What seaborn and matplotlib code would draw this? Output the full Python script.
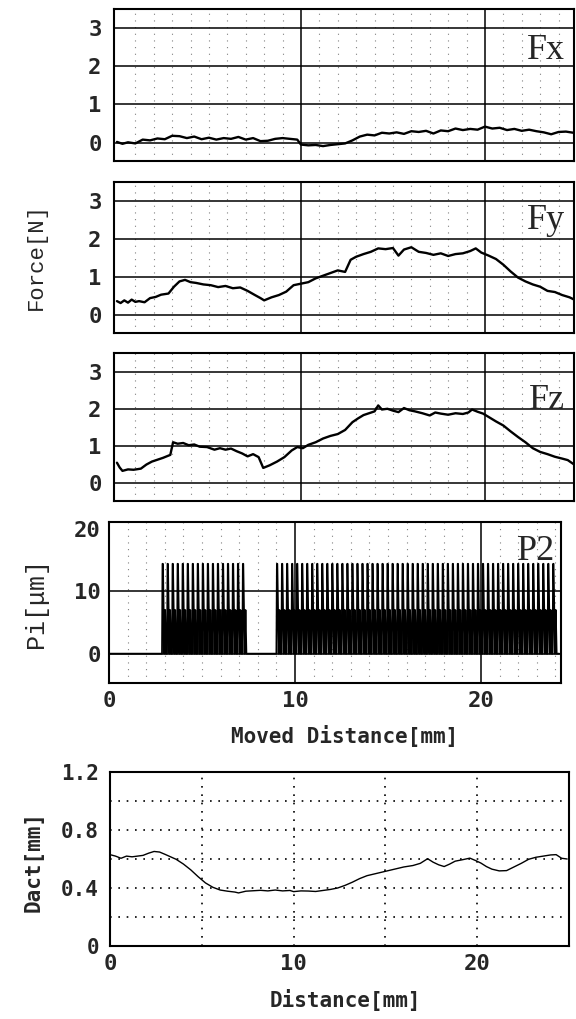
import numpy as np
import matplotlib
matplotlib.use("Agg")
import matplotlib.pyplot as plt
import seaborn as sns

# ---- data ----
# force curves vs moved distance [mm]
fx_dist = [0.0, 0.3, 0.6, 1.0, 1.4, 1.8, 2.2, 2.6, 3.0, 3.4, 3.8, 4.2, 4.6, 5.0, 5.4, 5.8,
           6.2, 6.6, 7.0, 7.4, 7.8, 8.2, 8.6, 9.0, 9.4, 9.8, 10.0, 10.4, 10.8, 11.2, 11.6,
           12.0, 12.4, 12.8, 13.2, 13.6, 14.0, 14.4, 14.8, 15.2, 15.6, 16.0, 16.4, 16.8,
           17.2, 17.6, 18.0, 18.4, 18.8, 19.2, 19.6, 20.0, 20.4, 20.8, 21.2, 21.6, 22.0,
           22.4, 22.8, 23.2, 23.6, 24.0, 24.4, 24.8]
fx_force = [0.02, -0.03, 0.01, -0.02, 0.08, 0.06, 0.11, 0.09, 0.18, 0.17, 0.12, 0.16, 0.09,
            0.13, 0.08, 0.12, 0.10, 0.15, 0.08, 0.12, 0.04, 0.05, 0.10, 0.12, 0.10, 0.08,
            -0.05, -0.07, -0.06, -0.09, -0.06, -0.04, -0.02, 0.06, 0.16, 0.21, 0.19, 0.26,
            0.24, 0.27, 0.23, 0.30, 0.28, 0.31, 0.24, 0.32, 0.30, 0.37, 0.33, 0.36, 0.34,
            0.42, 0.37, 0.39, 0.33, 0.36, 0.31, 0.34, 0.30, 0.27, 0.22, 0.28, 0.29, 0.26]

fy_dist = [0.0, 0.2, 0.4, 0.6, 0.8, 1.0, 1.2, 1.5, 1.8, 2.1, 2.4, 2.8, 3.1, 3.4, 3.7, 4.0,
           4.3, 4.7, 5.1, 5.5, 5.9, 6.3, 6.7, 7.1, 7.5, 7.8, 8.0, 8.4, 8.8, 9.2, 9.6, 10.0,
           10.4, 10.8, 11.2, 11.6, 12.0, 12.4, 12.7, 13.0, 13.4, 13.8, 14.2, 14.6, 15.0,
           15.3, 15.6, 16.0, 16.4, 16.8, 17.2, 17.6, 18.0, 18.4, 18.8, 19.2, 19.5, 19.8,
           20.2, 20.6, 21.0, 21.4, 21.8, 22.2, 22.6, 23.0, 23.4, 23.8, 24.2, 24.6, 24.85]
fy_force = [0.36, 0.31, 0.38, 0.32, 0.40, 0.34, 0.36, 0.33, 0.44, 0.47, 0.53, 0.56, 0.74,
            0.88, 0.92, 0.86, 0.84, 0.80, 0.78, 0.73, 0.76, 0.70, 0.72, 0.63, 0.52, 0.44,
            0.38, 0.46, 0.52, 0.61, 0.78, 0.82, 0.86, 0.96, 1.03, 1.10, 1.17, 1.13, 1.45,
            1.53, 1.60, 1.66, 1.75, 1.73, 1.76, 1.56, 1.72, 1.78, 1.66, 1.63, 1.58, 1.62,
            1.55, 1.60, 1.62, 1.68, 1.75, 1.64, 1.56, 1.47, 1.32, 1.14, 0.98, 0.88, 0.80,
            0.74, 0.63, 0.60, 0.52, 0.46, 0.40]

fz_dist = [0.0, 0.15, 0.3, 0.6, 0.9, 1.3, 1.6, 1.9, 2.2, 2.5, 2.9, 3.05, 3.3, 3.6, 3.9, 4.2,
           4.5, 4.9, 5.3, 5.6, 5.9, 6.2, 6.5, 6.8, 7.1, 7.4, 7.7, 7.95, 8.3, 8.7, 9.1, 9.5,
           9.8, 10.1, 10.4, 10.8, 11.2, 11.6, 12.0, 12.4, 12.8, 13.1, 13.4, 13.7, 14.0,
           14.2, 14.4, 14.7, 15.0, 15.3, 15.6, 15.9, 16.2, 16.6, 17.0, 17.3, 17.6, 18.0,
           18.4, 18.8, 19.1, 19.3, 19.6, 19.9, 20.2, 20.6, 21.0, 21.4, 21.8, 22.2, 22.6,
           23.0, 23.4, 23.8, 24.2, 24.5, 24.85]
fz_force = [0.55, 0.42, 0.33, 0.37, 0.36, 0.39, 0.50, 0.58, 0.63, 0.68, 0.76, 1.10, 1.06,
            1.08, 1.02, 1.04, 0.98, 0.97, 0.90, 0.94, 0.90, 0.93, 0.86, 0.80, 0.72, 0.78,
            0.70, 0.41, 0.48, 0.58, 0.70, 0.88, 0.97, 0.94, 1.03, 1.10, 1.20, 1.27, 1.32,
            1.43, 1.64, 1.74, 1.83, 1.88, 1.93, 2.09, 1.98, 2.00, 1.95, 1.91, 2.02, 1.96,
            1.93, 1.88, 1.82, 1.90, 1.87, 1.84, 1.88, 1.86, 1.90, 1.98, 1.92, 1.87, 1.78,
            1.66, 1.55, 1.39, 1.24, 1.10, 0.94, 0.84, 0.78, 0.71, 0.66, 0.62, 0.50]

# P2 piezo signal: pulse bursts (start, end) [mm], pulse pitch [mm], levels [um]
p2_bursts = [(2.85, 7.5), (9.0, 24.1)]
p2_pitch = 0.27
p2_peak = 14.4
p2_mid = 7.0
p2_end = 24.2

# actual depth vs distance
dact_dist = [0.0, 0.3, 0.6, 0.9, 1.2, 1.5, 1.8, 2.1, 2.4, 2.7, 3.0, 3.3, 3.6, 4.0, 4.4, 4.8,
             5.2, 5.6, 6.0, 6.4, 6.8, 7.0, 7.4, 7.8, 8.2, 8.6, 9.0, 9.4, 9.8, 10.0, 10.4,
             10.8, 11.2, 11.6, 12.0, 12.4, 12.8, 13.2, 13.6, 14.0, 14.5, 15.0, 15.5, 16.0,
             16.5, 16.9, 17.3, 17.6, 17.9, 18.2, 18.5, 18.8, 19.2, 19.6, 19.9, 20.2, 20.5,
             20.8, 21.2, 21.6, 22.0, 22.4, 22.8, 23.2, 23.6, 24.0, 24.3, 24.6, 24.9]
dact_val = [0.630, 0.620, 0.605, 0.620, 0.615, 0.620, 0.625, 0.640, 0.652, 0.648, 0.632,
            0.615, 0.598, 0.565, 0.525, 0.478, 0.435, 0.405, 0.386, 0.378, 0.372, 0.366,
            0.378, 0.381, 0.384, 0.380, 0.386, 0.380, 0.383, 0.375, 0.380, 0.379, 0.376,
            0.383, 0.390, 0.400, 0.418, 0.440, 0.465, 0.485, 0.500, 0.515, 0.530, 0.545,
            0.555, 0.570, 0.602, 0.578, 0.560, 0.548, 0.565, 0.585, 0.595, 0.606, 0.590,
            0.572, 0.548, 0.530, 0.518, 0.520, 0.545, 0.570, 0.598, 0.612, 0.620, 0.628,
            0.630, 0.605, 0.600]

force_names = ["Fx", "Fy", "Fz"]
force_label_y = [2.2, 2.25, 2.0]
force_ticks = [0, 1, 2, 3]
p2_ticks = [0, 10, 20]
dact_ticks = [0, 0.4, 0.8, 1.2]
dist_ticks = [0, 10, 20]

# ---- figure ----
sns.set_theme(style="white")
plt.rcParams["font.family"] = ["DejaVu Sans"]

W, H = 576, 1019
fig = plt.figure(figsize=(W / 100, H / 100), dpi=100)


def box(left, top, right, bottom):
    return [left / W, 1 - bottom / H, (right - left) / W, (bottom - top) / H]


tick_font = dict(family="DejaVu Sans Mono", weight="bold", size=16)
dec_font = dict(family="DejaVu Sans Mono", weight="bold", size=15)
mono_thin = ["Liberation Mono", "DejaVu Sans Mono"]
serif = ["Liberation Serif", "DejaVu Serif"]


def frame(ax):
    for sp in ax.spines.values():
        sp.set_color("black")
        sp.set_linewidth(1.5)
    ax.tick_params(length=0)
    ax.set_xlabel("")
    ax.set_ylabel("")


def mm_grid(ax):
    # faint dotted 1 mm grid plus solid lines every 10 mm
    for d in range(1, 25):
        if d % 10:
            ax.axvline(d, color="0.5", lw=0.8, ls=(0, (1, 5)), zorder=1)
    for d in (10, 20):
        ax.axvline(d, color="black", lw=1.1, zorder=1)


force_boxes = [(114, 9, 574, 161), (114, 182, 574, 333), (114, 353, 574, 501)]
force_x = [fx_dist, fy_dist, fz_dist]
force_y = [fx_force, fy_force, fz_force]

for name, ly, bx, xs, ys in zip(force_names, force_label_y, force_boxes, force_x, force_y):
    ax = fig.add_axes(box(*bx))
    ax.set_xlim(-0.16, 24.84)
    ax.set_ylim(-0.48, 3.5)
    mm_grid(ax)
    for v in force_ticks:
        ax.axhline(v, color="black", lw=1.1, zorder=1)
    sns.lineplot(x=xs, y=ys, ax=ax, color="black", lw=1.7,
                 estimator=None, sort=False, zorder=3)
    ax.text(24.35, ly, name, ha="right", va="baseline", family=serif, size=26, zorder=4)
    ax.set_yticks(force_ticks, labels=[str(t) for t in force_ticks], **tick_font)
    ax.set_xticks([])
    ax.tick_params(axis="y", pad=9)
    frame(ax)

# P2 panel
ax = fig.add_axes(box(109, 522, 561, 683))
ax.set_xlim(0, 24.3)
ax.set_ylim(-4.7, 21.1)
mm_grid(ax)
for v in (0, 10):
    ax.axhline(v, color="black", lw=1.1, zorder=1)

# each pulse: rise to the peak, short hold, fall to the mid level, back to zero,
# a second hump at the mid level, then zero again
p2_x, p2_y = [0.0], [0.0]
for start, stop in p2_bursts:
    n = int(round((stop - start) / p2_pitch))
    for k in range(n):
        x0 = start + k * p2_pitch
        p2_x += [x0, x0 + 0.1 * p2_pitch, x0 + 0.18 * p2_pitch, x0 + 0.32 * p2_pitch,
                 x0 + 0.46 * p2_pitch, x0 + 0.62 * p2_pitch, x0 + 0.8 * p2_pitch]
        p2_y += [0.0, p2_peak, p2_peak, p2_mid, 0.0, p2_mid, 0.0]
p2_x.append(p2_end)
p2_y.append(0.0)
sns.lineplot(x=p2_x, y=p2_y, ax=ax, color="black", lw=1.3,
             estimator=None, sort=False, zorder=3)
ax.text(24.0, 15.0, "P2", ha="right", va="baseline", family=serif, size=26, zorder=4)
ax.set_yticks(p2_ticks, labels=[str(t) for t in p2_ticks], **tick_font)
ax.set_xticks(dist_ticks, labels=[str(t) for t in dist_ticks], **tick_font)
ax.tick_params(axis="y", pad=6)
ax.tick_params(axis="x", pad=6)
frame(ax)

# Dact panel
ax = fig.add_axes(box(110, 772, 569, 946))
ax.set_xlim(0, 25)
ax.set_ylim(0, 1.2)
for d in (5, 10, 15, 20):
    ax.axvline(d, color="black", lw=1.2, ls=(0, (1, 4)), zorder=1)
for v in (0.2, 0.4, 0.6, 0.8, 1.0):
    ax.axhline(v, color="black", lw=1.2, ls=(0, (1, 4)), zorder=1)
sns.lineplot(x=dact_dist, y=dact_val, ax=ax, color="black", lw=1.0,
             estimator=None, sort=False, zorder=3)
ax.set_yticks(dact_ticks, labels=["0" if t == 0 else f"{t:.1f}" for t in dact_ticks],
              **dec_font)
ax.set_xticks(dist_ticks, labels=[str(t) for t in dist_ticks], **tick_font)
ax.tick_params(axis="y", pad=8)
ax.tick_params(axis="x", pad=6)
frame(ax)

# axis titles
fig.text(36 / W, 1 - 257 / H, "Force[N]", rotation=90, ha="center", va="center",
         family=mono_thin, size=16)
fig.text(36 / W, 1 - 603 / H, "Pi[μm]", rotation=90, ha="center", va="center",
         family=mono_thin, size=18)
fig.text(34 / W, 1 - 862 / H, "Dact[mm]", rotation=90, ha="center", va="center",
         family="DejaVu Sans Mono", weight="bold", size=15)
fig.text(345 / W, 1 - 736 / H, "Moved Distance[mm]", ha="center", va="center",
         family="DejaVu Sans Mono", weight="bold", size=15)
fig.text(345 / W, 1 - 1000 / H, "Distance[mm]", ha="center", va="center",
         family="DejaVu Sans Mono", weight="bold", size=15)

fig.savefig("out.png", dpi=100)
